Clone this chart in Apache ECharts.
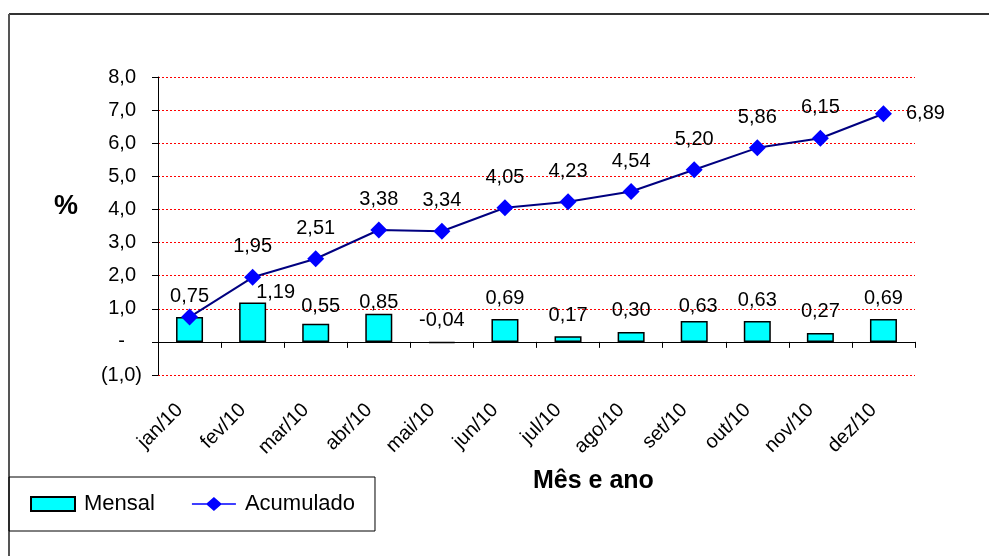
<!DOCTYPE html>
<html>
<head>
<meta charset="utf-8">
<script src="https://cdn.jsdelivr.net/npm/echarts@6/dist/echarts.min.js"></script>
<style>
html,body{margin:0;padding:0;background:#fff;}
#chart{width:989px;height:556px;}
</style>
</head>
<body>
<div id="chart"></div>
<script>
// ---- data ----
const categories = ['jan/10','fev/10','mar/10','abr/10','mai/10','jun/10','jul/10','ago/10','set/10','out/10','nov/10','dez/10'];
const mensal = [0.75, 1.19, 0.55, 0.85, -0.04, 0.69, 0.17, 0.30, 0.63, 0.63, 0.27, 0.69];
const acumulado = [0.75, 1.95, 2.51, 3.38, 3.34, 4.05, 4.23, 4.54, 5.20, 5.86, 6.15, 6.89];
const yTicks = { min: -1, max: 8, interval: 1 };

// label nudges (styling only, to mimic the original's collision avoidance)
const barLabelNudge = [[0,0],[23,11],[5,4],[0,10],[0,0],[0,0],[0,0],[0,0],[4,6],[0,0],[0,0],[0,0]];

const FONT = 'Liberation Sans, Arial, sans-serif';
const fmt2 = v => v.toFixed(2).replace('.', ',');

const chart = echarts.init(document.getElementById('chart'), null, {renderer: 'canvas'});

const barData = mensal.map((v, i) => ({
  value: v,
  label: { offset: barLabelNudge[i] }
}));
const lineData = acumulado.map((v, i) => {
  const item = { value: v };
  if (i === 0) item.label = { show: false };
  if (i === acumulado.length - 1) item.label = { position: 'right', distance: 14 };
  return item;
});

const lineDiamondIcon = 'path://M0,6.2L44,6.2L44,7.8L0,7.8Z M22,0L30,7L22,14L14,7Z';
const tickText = { fontSize: 20, color: '#000', fontFamily: FONT };

chart.setOption({
  backgroundColor: '#fff',
  animation: false,
  textStyle: { fontFamily: FONT },
  grid: { left: 158, right: 74, top: 77, bottom: 181, containLabel: false },
  legend: {
    left: 9, top: 477,
    padding: [16, 20, 16, 21],
    itemGap: 37,
    itemWidth: 44,
    itemHeight: 14,
    borderColor: '#000',
    borderWidth: 1,
    textStyle: { fontSize: 22, color: '#000', fontFamily: FONT, padding: [0, 0, 0, 4] },
    data: [
      { name: 'Mensal', icon: 'rect' },
      { name: 'Acumulado', icon: lineDiamondIcon, itemStyle: { color: '#0000ff' } }
    ]
  },
  xAxis: {
    type: 'category',
    data: categories,
    boundaryGap: true,
    axisLine: { onZero: true, lineStyle: { color: '#000', width: 1 } },
    axisTick: { show: true, length: 6, lineStyle: { color: '#000' } },
    axisLabel: { rotate: 45, margin: 22, padding: [0, 14, 0, 0], fontSize: 20, color: '#000', fontFamily: FONT, interval: 0 },
    splitLine: { show: false }
  },
  yAxis: {
    type: 'value',
    min: yTicks.min, max: yTicks.max, interval: yTicks.interval,
    axisLine: { show: true, lineStyle: { color: '#000', width: 1 } },
    axisTick: { show: true, length: 6, lineStyle: { color: '#000' } },
    axisLabel: {
      margin: 16,
      fontSize: 20, color: '#000', fontFamily: FONT,
      formatter: v => {
        if (Math.abs(v) < 1e-9) return '{z|-}';
        const s = Math.abs(v).toFixed(1).replace('.', ',');
        return v < 0 ? '{n|(' + s + ')}' : '{p|' + s + '}';
      },
      rich: {
        p: Object.assign({ padding: [0, 6, 0, 0] }, tickText),
        n: Object.assign({}, tickText),
        z: Object.assign({ padding: [0, 17, 0, 0] }, tickText)
      }
    },
    splitLine: { show: true, lineStyle: { color: '#ff0000', type: [2, 2], width: 1 } }
  },
  series: [
    {
      name: 'Mensal',
      type: 'bar',
      data: barData,
      barWidth: 27,
      itemStyle: { color: '#00ffff', borderColor: '#000', borderWidth: 1.5 },
      label: {
        show: true, position: 'top', distance: 11,
        fontSize: 20, color: '#000', fontFamily: FONT,
        formatter: p => fmt2(p.value)
      },
      z: 2
    },
    {
      name: 'Acumulado',
      type: 'line',
      data: lineData,
      symbol: 'diamond',
      symbolSize: 17,
      itemStyle: { color: '#0000ff' },
      lineStyle: { color: '#000080', width: 2 },
      label: {
        show: true, position: 'top', distance: 12,
        fontSize: 20, color: '#000', fontFamily: FONT,
        formatter: p => fmt2(p.value)
      },
      z: 3
    }
  ],
  graphic: [
    { type: 'line', shape: { x1: 9, y1: 14, x2: 989, y2: 14 }, style: { stroke: '#333', lineWidth: 2 } },
    { type: 'line', shape: { x1: 9, y1: 14, x2: 9, y2: 556 }, style: { stroke: '#555', lineWidth: 2 } },
    { type: 'text', left: 54, top: 193, style: { text: '%', font: 'bold 27px ' + FONT, fill: '#000' } },
    { type: 'text', left: 533, top: 469, style: { text: 'Mês e ano', font: 'bold 25px ' + FONT, fill: '#000' } }
  ]
});
</script>
</body>
</html>
